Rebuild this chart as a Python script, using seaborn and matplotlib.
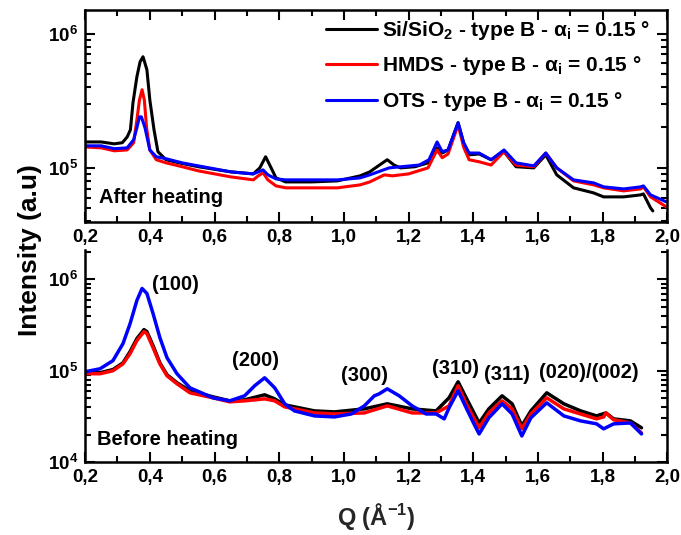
import matplotlib
matplotlib.use("Agg")
import matplotlib.pyplot as plt
from matplotlib.ticker import FixedLocator, MultipleLocator, NullFormatter
import seaborn as sns

# ---- data ----
# after heating (top panel)
q_after_si = [0.20, 0.25, 0.29, 0.315, 0.33, 0.34, 0.348, 0.36, 0.37, 0.379, 0.391, 0.40, 0.413, 0.425,
              0.45, 0.49, 0.55, 0.65, 0.72, 0.74, 0.758, 0.775, 0.79, 0.82, 0.90, 0.98, 1.05, 1.08,
              1.11, 1.134, 1.155, 1.175, 1.22, 1.26, 1.288, 1.304, 1.322, 1.353, 1.37, 1.387, 1.418,
              1.455, 1.495, 1.532, 1.587, 1.624, 1.658, 1.71, 1.772, 1.803, 1.865, 1.917, 1.926,
              1.948, 1.955]
i_after_si = [1.56e5, 1.56e5, 1.51e5, 1.54e5, 1.70e5, 1.92e5, 3.06e5, 4.77e5, 6.18e5, 6.73e5, 5.38e5,
              3.21e5, 1.92e5, 1.32e5, 1.15e5, 1.09e5, 1.02e5, 9.34e4, 9.02e4, 1.0e5, 1.21e5, 1.0e5,
              8.42e4, 7.86e4, 7.86e4, 8.0e4, 8.72e4, 9.34e4, 1.05e5, 1.15e5, 1.05e5, 1.0e5, 1.02e5,
              1.09e5, 1.41e5, 1.29e5, 1.36e5, 2.17e5, 1.54e5, 1.25e5, 1.27e5, 1.15e5, 1.32e5, 1.02e5,
              1.0e5, 1.25e5, 8.87e4, 7.1e4, 6.51e4, 6.08e4, 6.08e4, 6.29e4, 6.4e4, 5.03e4, 4.78e4]

q_after_hmds = [0.20, 0.25, 0.29, 0.33, 0.35, 0.36, 0.368, 0.376, 0.383, 0.39, 0.40, 0.42, 0.45, 0.50,
                0.55, 0.65, 0.72, 0.735, 0.75, 0.765, 0.79, 0.82, 0.90, 0.98, 1.05, 1.08, 1.125, 1.15,
                1.20, 1.26, 1.288, 1.304, 1.322, 1.353, 1.37, 1.387, 1.418, 1.455, 1.495, 1.532,
                1.587, 1.624, 1.658, 1.71, 1.772, 1.803, 1.865, 1.917, 1.926, 1.948, 1.997]
i_after_hmds = [1.43e5, 1.41e5, 1.34e5, 1.36e5, 1.54e5, 2.28e5, 3.21e5, 3.82e5, 3.21e5, 1.99e5, 1.36e5,
                1.15e5, 1.09e5, 1.02e5, 9.5e4, 8.57e4, 8.14e4, 8.72e4, 9.18e4, 8.14e4, 7.34e4, 7.1e4,
                7.1e4, 7.1e4, 7.47e4, 7.86e4, 8.87e4, 8.72e4, 9.02e4, 1.0e5, 1.36e5, 1.19e5, 1.27e5,
                2.09e5, 1.43e5, 1.15e5, 1.11e5, 1.05e5, 1.32e5, 1.05e5, 1.02e5, 1.29e5, 1.0e5, 8.0e4,
                7.47e4, 7.1e4, 6.74e4, 6.97e4, 7.22e4, 6.08e4, 5.12e4]

q_after_ots = [0.20, 0.25, 0.29, 0.33, 0.35, 0.36, 0.368, 0.374, 0.385, 0.40, 0.42, 0.45, 0.50, 0.55,
               0.65, 0.72, 0.735, 0.75, 0.765, 0.79, 0.82, 0.90, 0.98, 1.05, 1.08, 1.14, 1.233, 1.263,
               1.288, 1.304, 1.322, 1.353, 1.37, 1.387, 1.418, 1.455, 1.495, 1.532, 1.587, 1.624,
               1.658, 1.71, 1.772, 1.803, 1.865, 1.917, 1.926, 1.948, 1.997]
i_after_ots = [1.46e5, 1.46e5, 1.39e5, 1.41e5, 1.62e5, 1.99e5, 2.40e5, 2.40e5, 1.99e5, 1.36e5, 1.21e5,
               1.17e5, 1.09e5, 1.035e5, 9.34e4, 9.02e4, 9.34e4, 9.66e4, 8.87e4, 8.28e4, 8.14e4, 8.14e4,
               8.14e4, 8.42e4, 8.87e4, 1.0e5, 1.05e5, 1.15e5, 1.56e5, 1.32e5, 1.36e5, 2.17e5, 1.54e5,
               1.29e5, 1.29e5, 1.15e5, 1.36e5, 1.09e5, 1.035e5, 1.29e5, 1.0e5, 8.14e4, 7.73e4, 7.22e4,
               6.97e4, 7.22e4, 7.34e4, 6.29e4, 5.58e4]

# before heating (bottom panel)
q_before_si = [0.20, 0.246, 0.286, 0.317, 0.339, 0.36, 0.382, 0.391, 0.41, 0.431, 0.453, 0.484, 0.524,
               0.595, 0.647, 0.693, 0.755, 0.786, 0.817, 0.909, 0.971, 1.063, 1.134, 1.211, 1.285,
               1.325, 1.353, 1.378, 1.418, 1.448, 1.489, 1.52, 1.55, 1.578, 1.627, 1.68, 1.732, 1.781,
               1.81, 1.834, 1.886, 1.92]
i_before_si = [9.51e4, 9.51e4, 1.03e5, 1.22e5, 1.62e5, 2.25e5, 2.82e5, 2.68e5, 1.88e5, 1.22e5, 9.04e4,
               7.38e4, 6.03e4, 5.18e4, 4.68e4, 4.80e4, 5.45e4, 4.92e4, 4.23e4, 3.63e4, 3.54e4, 3.82e4,
               4.34e4, 3.82e4, 3.63e4, 5.05e4, 7.57e4, 5.05e4, 2.68e4, 3.82e4, 5.31e4, 4.34e4, 2.49e4,
               3.63e4, 5.73e4, 4.34e4, 3.63e4, 3.20e4, 3.45e4, 2.97e4, 2.82e4, 2.37e4]

q_before_hmds = [0.20, 0.246, 0.286, 0.317, 0.339, 0.36, 0.382, 0.391, 0.41, 0.431, 0.453, 0.484, 0.524,
                 0.595, 0.647, 0.693, 0.755, 0.786, 0.817, 0.909, 0.971, 1.063, 1.134, 1.211, 1.285,
                 1.325, 1.353, 1.378, 1.418, 1.448, 1.489, 1.52, 1.55, 1.578, 1.627, 1.68, 1.781,
                 1.803, 1.81, 1.834, 1.886, 1.92]
i_before_hmds = [9.27e4, 9.27e4, 1.0e5, 1.19e5, 1.54e5, 2.14e5, 2.68e5, 2.55e5, 1.79e5, 1.19e5, 8.81e4,
                 7.19e4, 5.73e4, 5.05e4, 4.56e4, 4.68e4, 4.92e4, 4.68e4, 4.02e4, 3.45e4, 3.36e4, 3.45e4,
                 4.12e4, 3.45e4, 3.45e4, 4.12e4, 6.84e4, 4.34e4, 2.37e4, 3.45e4, 4.68e4, 3.82e4, 2.31e4,
                 3.36e4, 5.05e4, 3.82e4, 2.97e4, 3.12e4, 3.45e4, 2.90e4, 2.68e4, 2.08e4]

q_before_ots = [0.20, 0.246, 0.286, 0.317, 0.339, 0.36, 0.376, 0.391, 0.41, 0.431, 0.453, 0.484, 0.524,
                0.595, 0.647, 0.693, 0.724, 0.755, 0.786, 0.817, 0.847, 0.909, 0.971, 1.023, 1.063,
                1.094, 1.109, 1.134, 1.171, 1.211, 1.254, 1.285, 1.31, 1.325, 1.353, 1.378, 1.402,
                1.418, 1.448, 1.489, 1.52, 1.55, 1.578, 1.627, 1.68, 1.732, 1.781, 1.803, 1.834,
                1.886, 1.92]
i_before_ots = [9.75e4, 1.05e5, 1.29e5, 1.98e5, 3.28e5, 5.88e5, 7.96e5, 7.02e5, 4.23e5, 2.31e5, 1.39e5,
                9.27e4, 6.50e4, 5.05e4, 4.68e4, 5.31e4, 6.84e4, 8.37e4, 6.50e4, 4.34e4, 3.63e4, 3.20e4,
                3.12e4, 3.36e4, 4.12e4, 5.31e4, 5.58e4, 6.34e4, 5.31e4, 4.12e4, 3.36e4, 3.36e4, 2.97e4,
                3.92e4, 6.03e4, 3.92e4, 2.62e4, 2.03e4, 3.05e4, 4.34e4, 3.36e4, 1.93e4, 3.05e4, 4.45e4,
                3.20e4, 2.82e4, 2.62e4, 2.31e4, 2.62e4, 2.68e4, 2.03e4]

series_names = ["Si/SiO$_2$ - type B - $\\alpha_i$ = 0.15 °",
                "HMDS - type B - $\\alpha_i$ = 0.15 °",
                "OTS - type B - $\\alpha_i$ = 0.15 °"]
series_colors = ["#000000", "#ff0000", "#0000ff"]

q_ticks = [0.2, 0.4, 0.6, 0.8, 1.0, 1.2, 1.4, 1.6, 1.8, 2.0]
q_tick_labels = ["0,2", "0,4", "0,6", "0,8", "1,0", "1,2", "1,4", "1,6", "1,8", "2,0"]

peak_labels = ["(100)", "(200)", "(300)", "(310)", "(311)", "(020)/(002)"]
peak_label_q = [0.407, 0.653, 0.992, 1.273, 1.433, 1.603]
peak_label_i = [7.57e5, 1.13e5, 7.76e4, 9.27e4, 7.96e4, 8.37e4]

# ---- style ----
sns.set_style("ticks")
plt.rcParams.update({
    "font.family": ["Liberation Sans", "DejaVu Sans"],
    "font.weight": "bold",
    "axes.labelweight": "bold",
    "mathtext.fontset": "custom",
    "mathtext.rm": "Liberation Sans:bold",
    "mathtext.it": "Liberation Sans:bold",
    "mathtext.bf": "Liberation Sans:bold",
    "mathtext.sf": "Liberation Sans:bold",
    "axes.edgecolor": "black",
    "xtick.color": "black",
    "ytick.color": "black",
    "text.color": "black",
})

fig = plt.figure(figsize=(6.81, 5.35), dpi=100)
ax_top = fig.add_axes([0.125, 0.585, 0.855, 0.3963])
ax_bot = fig.add_axes([0.125, 0.1364, 0.855, 0.3963])


def style_axis(ax, show_top):
    ax.set_yscale("log")
    ax.set_xlim(0.2, 2.0)
    ax.xaxis.set_major_locator(FixedLocator(q_ticks))
    ax.set_xticklabels(q_tick_labels)
    ax.xaxis.set_minor_locator(MultipleLocator(0.1))
    ax.yaxis.set_minor_formatter(NullFormatter())
    ax.tick_params(which="both", direction="in", top=show_top, right=True,
                   width=1.5, labelsize=13.5, pad=5)
    ax.tick_params(which="major", length=7)
    ax.tick_params(which="minor", length=4)
    for side in ["left", "right", "bottom", "top"]:
        ax.spines[side].set_linewidth(1.8)
    ax.spines["top"].set_visible(show_top)
    ax.set_xlabel("")
    ax.set_ylabel("")


after = [(q_after_si, i_after_si), (q_after_hmds, i_after_hmds), (q_after_ots, i_after_ots)]
before = [(q_before_si, i_before_si), (q_before_hmds, i_before_hmds), (q_before_ots, i_before_ots)]

for (q, inten), name, col in zip(after, series_names, series_colors):
    sns.lineplot(x=q, y=inten, ax=ax_top, color=col, lw=2.2, label=name,
                 sort=False, estimator=None)
for (q, inten), col in zip(before, series_colors):
    sns.lineplot(x=q, y=inten, ax=ax_bot, color=col, lw=2.5, legend=False,
                 sort=False, estimator=None)

style_axis(ax_top, True)
style_axis(ax_bot, False)
ax_top.set_ylim(3.95e4, 1.5e6)
ax_bot.set_ylim(1e4, 2.1e6)

ax_top.legend(loc="upper left", bbox_to_anchor=(0.414, 0.958), frameon=False, fontsize=15,
              handlelength=2.45, handletextpad=0.25, borderpad=0, borderaxespad=0,
              labelspacing=0.6)

ax_top.text(0.024, 0.09, "After heating", transform=ax_top.transAxes, fontsize=14.5,
            va="baseline")
ax_bot.text(0.02, 0.08, "Before heating", transform=ax_bot.transAxes, fontsize=14.5,
            va="baseline")
for lab, q, inten in zip(peak_labels, peak_label_q, peak_label_i):
    ax_bot.text(q, inten, lab, fontsize=14.5, va="baseline", ha="left")

ax_bot.set_xlabel("Q (Å$^{-1}$)", fontsize=17, labelpad=11)
fig.text(0.044, 0.533, "Intensity (a.u)", rotation=90, fontsize=19, ha="center", va="center")

fig.savefig("out.png", dpi=100)
